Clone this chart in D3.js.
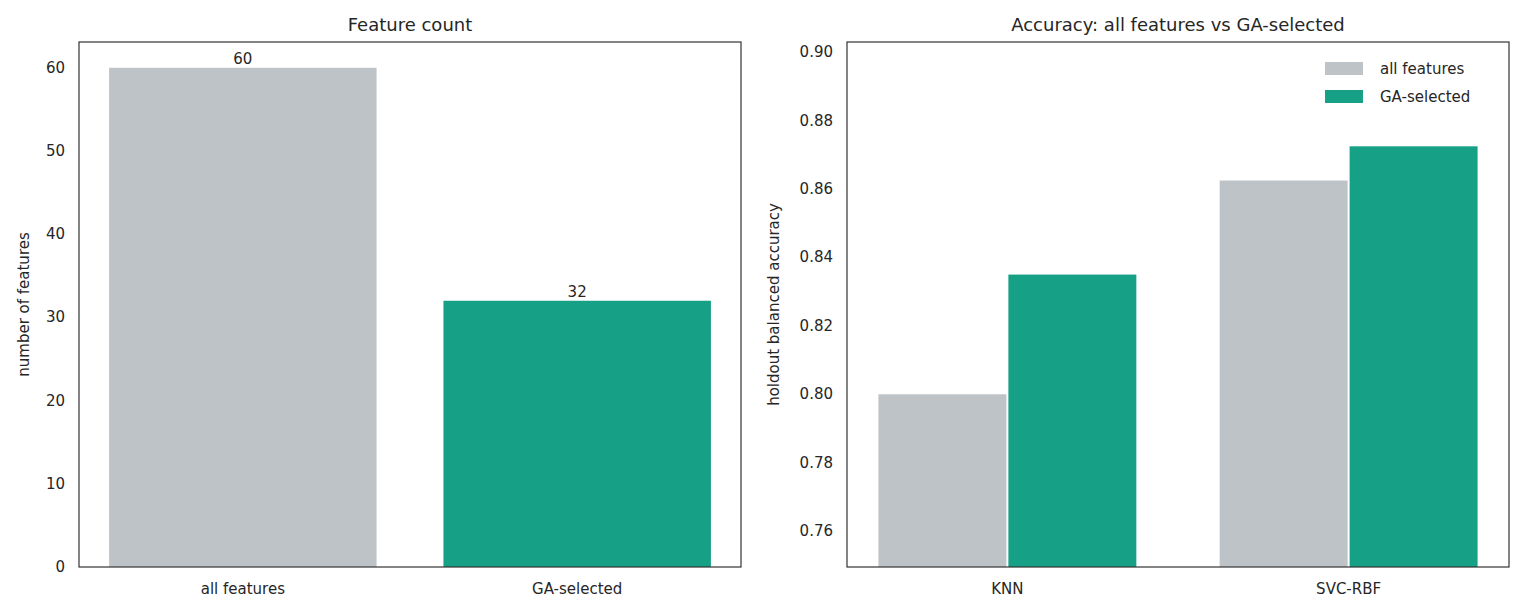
<!DOCTYPE html>
<html><head><meta charset="utf-8">
<script src="https://cdn.jsdelivr.net/npm/d3@7"></script>
<style>body{margin:0;background:#fff;font-family:"DejaVu Sans",sans-serif}</style>
</head><body><svg id="c" width="1524" height="614"></svg>
<script>
const countCats = ["all features","GA-selected"];
const countVals = [60,32];
const countTicks = [0,10,20,30,40,50,60];
const models = ["KNN","SVC-RBF"];
const seriesNames = ["all features","GA-selected"];
const accAll = [0.800,0.8625];
const accGA = [0.835,0.8725];
const accTicks = [0.76,0.78,0.80,0.82,0.84,0.86,0.88,0.90];
const colors = ["#bdc3c7","#16a085"];

const svg = d3.select("#c");
const txt = "#262626";
const pTop=42, pBot=567;

// Left panel
{
  const L=79,R=741;
  const g=svg.append("g");
  const x=d3.scaleLinear().domain([-0.49,1.49]).range([L,R]);
  const y=d3.scaleLinear().domain([0,63.1]).range([pBot,pTop]);
  const bw=x(0.8)-x(0);
  g.selectAll("rect.b").data(countVals).join("rect")
    .attr("x",(d,i)=>x(i)-bw/2).attr("width",bw)
    .attr("y",d=>y(d)).attr("height",d=>pBot-y(d)).attr("fill",(d,i)=>colors[i]);
  g.selectAll("text.v").data(countVals).join("text")
    .attr("x",(d,i)=>x(i)).attr("y",d=>y(d)-4).attr("text-anchor","middle")
    .attr("font-size",15).attr("fill",txt).text(d=>d);
  g.selectAll("text.yt").data(countTicks).join("text")
    .attr("x",L-14).attr("y",d=>y(d)+5).attr("text-anchor","end")
    .attr("font-size",15).attr("fill",txt).text(d=>d);
  g.selectAll("text.xt").data(countCats).join("text")
    .attr("x",(d,i)=>x(i)).attr("y",pBot+27).attr("text-anchor","middle")
    .attr("font-size",15).attr("fill",txt).text(d=>d);
  g.append("rect").attr("x",L).attr("y",pTop).attr("width",R-L).attr("height",pBot-pTop)
    .attr("fill","none").attr("stroke","#333").attr("stroke-width",1.2);
  g.append("text").attr("x",(L+R)/2).attr("y",pTop-11).attr("text-anchor","middle")
    .attr("font-size",18).attr("fill",txt).text("Feature count");
  g.append("text").attr("transform",`translate(29,${(pTop+pBot)/2}) rotate(-90)`)
    .attr("text-anchor","middle").attr("font-size",15).attr("fill",txt).text("number of features");
}
// Right panel
{
  const L=847,R=1509;
  const g=svg.append("g");
  const x=d3.scaleLinear().domain([-0.47,1.47]).range([L,R]);
  const y=d3.scaleLinear().domain([0.7495,0.903]).range([pBot,pTop]);
  const w=x(0.375)-x(0);
  [accAll,accGA].forEach((vals,s)=>{
    g.selectAll("rect.s"+s).data(vals).join("rect")
      .attr("x",(d,i)=>x(i)+(s===0?-w:0)+(s===0?-1:1)).attr("width",w)
      .attr("y",d=>y(d)).attr("height",d=>pBot-y(d)).attr("fill",colors[s]);
  });
  g.selectAll("text.yt").data(accTicks).join("text")
    .attr("x",L-14).attr("y",d=>y(d)+5).attr("text-anchor","end")
    .attr("font-size",15).attr("fill",txt).text(d=>d.toFixed(2));
  g.selectAll("text.xt").data(models).join("text")
    .attr("x",(d,i)=>x(i)).attr("y",pBot+27).attr("text-anchor","middle")
    .attr("font-size",15).attr("fill",txt).text(d=>d);
  g.append("rect").attr("x",L).attr("y",pTop).attr("width",R-L).attr("height",pBot-pTop)
    .attr("fill","none").attr("stroke","#333").attr("stroke-width",1.2);
  g.append("text").attr("x",(L+R)/2).attr("y",pTop-11).attr("text-anchor","middle")
    .attr("font-size",18).attr("fill",txt).text("Accuracy: all features vs GA-selected");
  g.append("text").attr("transform",`translate(779,${(pTop+pBot)/2}) rotate(-90)`)
    .attr("text-anchor","middle").attr("font-size",15).attr("fill",txt).text("holdout balanced accuracy");
  seriesNames.forEach((n,i)=>{
    g.append("rect").attr("x",1325).attr("y",62+i*28).attr("width",38).attr("height",13).attr("fill",colors[i]);
    g.append("text").attr("x",1380).attr("y",74+i*28).attr("font-size",15).attr("fill",txt).text(n);
  });
}
</script></body></html>
